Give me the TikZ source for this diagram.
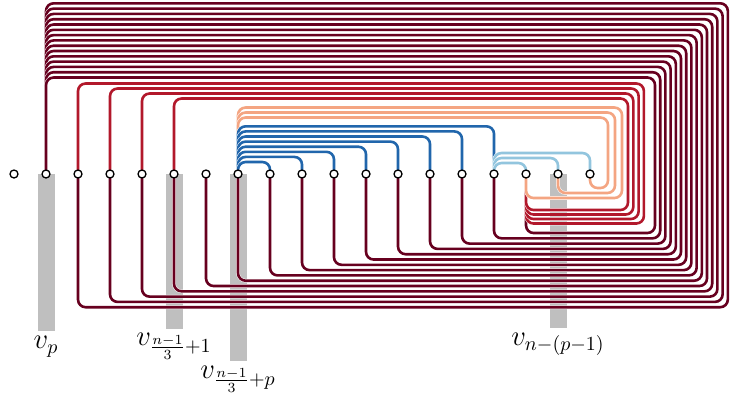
\documentclass[tikz,border=0pt]{standalone}
\usepackage{amsmath}
\usepackage{tikz}
\usetikzlibrary{positioning,backgrounds}
\definecolor{rdbuA}{HTML}{67001F}
\definecolor{rdbuB}{HTML}{B2182B}
\definecolor{rdbuC}{HTML}{F4A582}
\definecolor{rdbuD}{HTML}{92C5DE}
\definecolor{rdbuE}{HTML}{2166AC}
\tikzset{
	vtx/.style={circle, draw=black, fill=white, line width=0.65pt,
		minimum size=4pt, inner sep=0pt},
	edg/.style={line width=1.3pt, rounded corners=3.8pt,
		preaction={draw=white, line width=1.8pt}},
	far/.style={edg, draw=rdbuA},
	mid/.style={edg, draw=rdbuB},
	near/.style={edg, draw=rdbuC},
	lite/.style={edg, draw=rdbuD},
	deep/.style={edg, draw=rdbuE},
	bar/.style={draw=black!25, line width=8.5pt},
	lbl/.style={inner sep=0pt, font=\fontsize{14pt}{17pt}\selectfont},
}
\begin{document}
\begin{tikzpicture}[x=0.5pt, y=-0.5pt]
	\useasboundingbox (0,0) rectangle (731,398);
	\node[vtx] at (14,174) (v0) {};
	\node[vtx] at (46,174) (v1) {};
	\node[vtx] at (78,174) (v2) {};
	\node[vtx] at (110,174) (v3) {};
	\node[vtx] at (142,174) (v4) {};
	\node[vtx] at (174,174) (v5) {};
	\node[vtx] at (206,174) (v6) {};
	\node[vtx] at (238,174) (v7) {};
	\node[vtx] at (270,174) (v8) {};
	\node[vtx] at (302,174) (v9) {};
	\node[vtx] at (334,174) (v10) {};
	\node[vtx] at (366,174) (v11) {};
	\node[vtx] at (398,174) (v12) {};
	\node[vtx] at (430,174) (v13) {};
	\node[vtx] at (462,174) (v14) {};
	\node[vtx] at (494,174) (v15) {};
	\node[vtx] at (526,174) (v16) {};
	\node[vtx] at (558,174) (v17) {};
	\node[vtx] at (590,174) (v18) {};
	\coordinate (e1) at (46,331);
	\coordinate (e5) at (174,329);
	\coordinate (e7) at (238,361);
	\coordinate (e17) at (558,328);
	\node[lbl, below=2.5pt of e1] (l1) {$v_p$};
	\node[lbl, below=2pt of e5] (l5) {$v_{\frac{n-1}{3}+1}$};
	\node[lbl, below=2.5pt of e7] (l7) {$v_{\frac{n-1}{3}+p}$};
	\node[lbl, below=2.5pt of e17] (l17) {$v_{n-(p-1)}$};
	\begin{scope}[on background layer]
		\draw[bar] (v1.center) -- (e1);
		\draw[bar] (v5.center) -- (e5);
		\draw[bar] (v7.center) -- (e7);
		\draw[bar] (v17.center) -- (e17);
		% edges from v_p, around the right end, back under the spine
		\draw[far] (v1.center) |- (727.8,3.3) |- (v2 |- 0,307.2) -- (v2.center);
		\draw[far] (v1.center) |- (722.6,8.6) |- (v3 |- 0,301.9) -- (v3.center);
		\draw[far] (v1.center) |- (717.4,13.9) |- (v4 |- 0,296.6) -- (v4.center);
		\draw[far] (v1.center) |- (712.2,19.2) |- (v5 |- 0,291.3) -- (v5.center);
		\draw[far] (v1.center) |- (707.0,24.5) |- (v6 |- 0,286.0) -- (v6.center);
		\draw[far] (v1.center) |- (701.8,29.8) |- (v7 |- 0,280.7) -- (v7.center);
		\draw[far] (v1.center) |- (696.6,35.1) |- (v8 |- 0,275.4) -- (v8.center);
		\draw[far] (v1.center) |- (691.4,40.4) |- (v9 |- 0,270.1) -- (v9.center);
		\draw[far] (v1.center) |- (686.2,45.7) |- (v10 |- 0,264.8) -- (v10.center);
		\draw[far] (v1.center) |- (681.0,51.0) |- (v11 |- 0,259.5) -- (v11.center);
		\draw[far] (v1.center) |- (675.8,56.3) |- (v12 |- 0,254.2) -- (v12.center);
		\draw[far] (v1.center) |- (670.6,61.6) |- (v13 |- 0,248.9) -- (v13.center);
		\draw[far] (v1.center) |- (665.4,66.9) |- (v14 |- 0,243.6) -- (v14.center);
		\draw[far] (v1.center) |- (660.2,72.2) |- (v15 |- 0,238.3) -- (v15.center);
		\draw[far] (v1.center) |- (655.0,77.5) |- (v16 |- 0,233.0) -- (v16.center);
		% edges into v16 from below
		\draw[mid] (v2.center) |- (643.9,83.5) |- (v16 |- 0,223.5) -- (v16.center);
		\draw[mid] (v3.center) |- (638.6,88.5) |- (v16 |- 0,219.0) -- (v16.center);
		\draw[mid] (v4.center) |- (633.3,93.5) |- (v16 |- 0,214.5) -- (v16.center);
		\draw[mid] (v5.center) |- (628.0,98.5) |- (v16 |- 0,210.0) -- (v16.center);
		\draw[near] (v7.center) |- (622,107.5) |- (v16 |- 0,198) -- (v16.center);
		\draw[near] (v7.center) |- (615,112.5) |- (v17 |- 0,193) -- (v17.center);
		\draw[near] (v7.center) |- (608,117.5) |- (v18 |- 0,188) -- (v18.center);
		% short edges above the spine
		\draw[deep] (v7.center) |- (v15 |- 0,126.3) -- (v15.center);
		\draw[deep] (v7.center) |- (v14 |- 0,131.4) -- (v14.center);
		\draw[deep] (v7.center) |- (v13 |- 0,136.5) -- (v13.center);
		\draw[deep] (v7.center) |- (v12 |- 0,141.6) -- (v12.center);
		\draw[deep] (v7.center) |- (v11 |- 0,146.7) -- (v11.center);
		\draw[deep] (v7.center) |- (v10 |- 0,151.8) -- (v10.center);
		\draw[deep] (v7.center) |- (v9 |- 0,156.9) -- (v9.center);
		\draw[deep] (v7.center) |- (v8 |- 0,162) -- (v8.center);
		\draw[lite] (v15.center) |- (v18 |- 0,153) -- (v18.center);
		\draw[lite] (v15.center) |- (v17 |- 0,158) -- (v17.center);
		\draw[lite] (v15.center) |- (v16 |- 0,163) -- (v16.center);
	\end{scope}
\end{tikzpicture}
\end{document}
